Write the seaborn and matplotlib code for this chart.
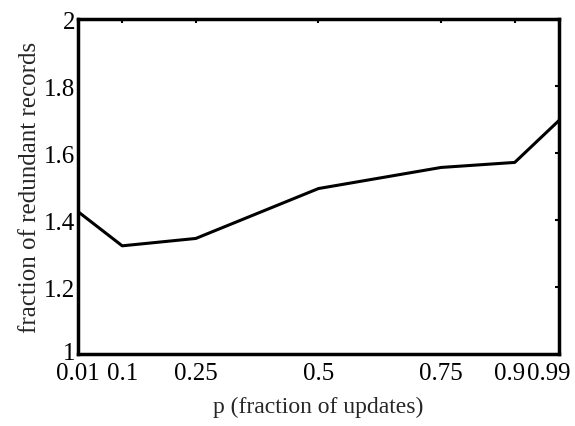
import matplotlib
matplotlib.use("Agg")
import matplotlib.pyplot as plt
import matplotlib.transforms as mtransforms
import seaborn as sns
import pandas as pd

p_values = [0.01, 0.1, 0.25, 0.5, 0.75, 0.9, 0.99]
redundant = [1.425, 1.323, 1.345, 1.494, 1.557, 1.572, 1.697]
x_tick_labels = ["0.01", "0.1", "0.25", "0.5", "0.75", "0.9", "0.99"]
y_ticks = [1, 1.2, 1.4, 1.6, 1.8, 2]
y_tick_labels = ["1", "1.2", "1.4", "1.6", "1.8", "2"]

sns.set_theme(style="white")
plt.rcParams['font.family'] = ['Liberation Serif', 'DejaVu Serif']

df = pd.DataFrame({"p": p_values, "r": redundant})

fig = plt.figure(figsize=(5.75, 4.27), dpi=100)
ax = fig.add_axes([0.1357, 0.1686, 0.8363, 0.7844])
sns.lineplot(data=df, x="p", y="r", ax=ax, color="black", linewidth=2.2)

ax.set_xlim(0.01, 0.99)
ax.set_ylim(1, 2)
ax.set_xticks(p_values)
ax.set_xticklabels(x_tick_labels)
ax.set_yticks(y_ticks)
ax.set_yticklabels(y_tick_labels)
ax.tick_params(direction="in", length=3, width=1.5, top=True, right=True,
               labelsize=18, colors="black")
ax.tick_params(axis="x", pad=6)
ax.tick_params(axis="y", pad=2)
for s in ax.spines.values():
    s.set_linewidth(2.5)
    s.set_color("black")

def nudge(label, dx, dy):
    label.set_transform(label.get_transform() +
                        mtransforms.ScaledTranslation(dx / 100, dy / 100, fig.dpi_scale_trans))

xl = ax.get_xticklabels()
nudge(xl[-1], -10, 0)
nudge(xl[-2], -5, 0)
yl = ax.get_yticklabels()
nudge(yl[0], 0, 4)

ax.set_xlabel("p (fraction of updates)", fontsize=17, labelpad=8)
ax.set_ylabel("fraction of redundant records", fontsize=18, labelpad=2)

fig.savefig("out.png", dpi=100)
